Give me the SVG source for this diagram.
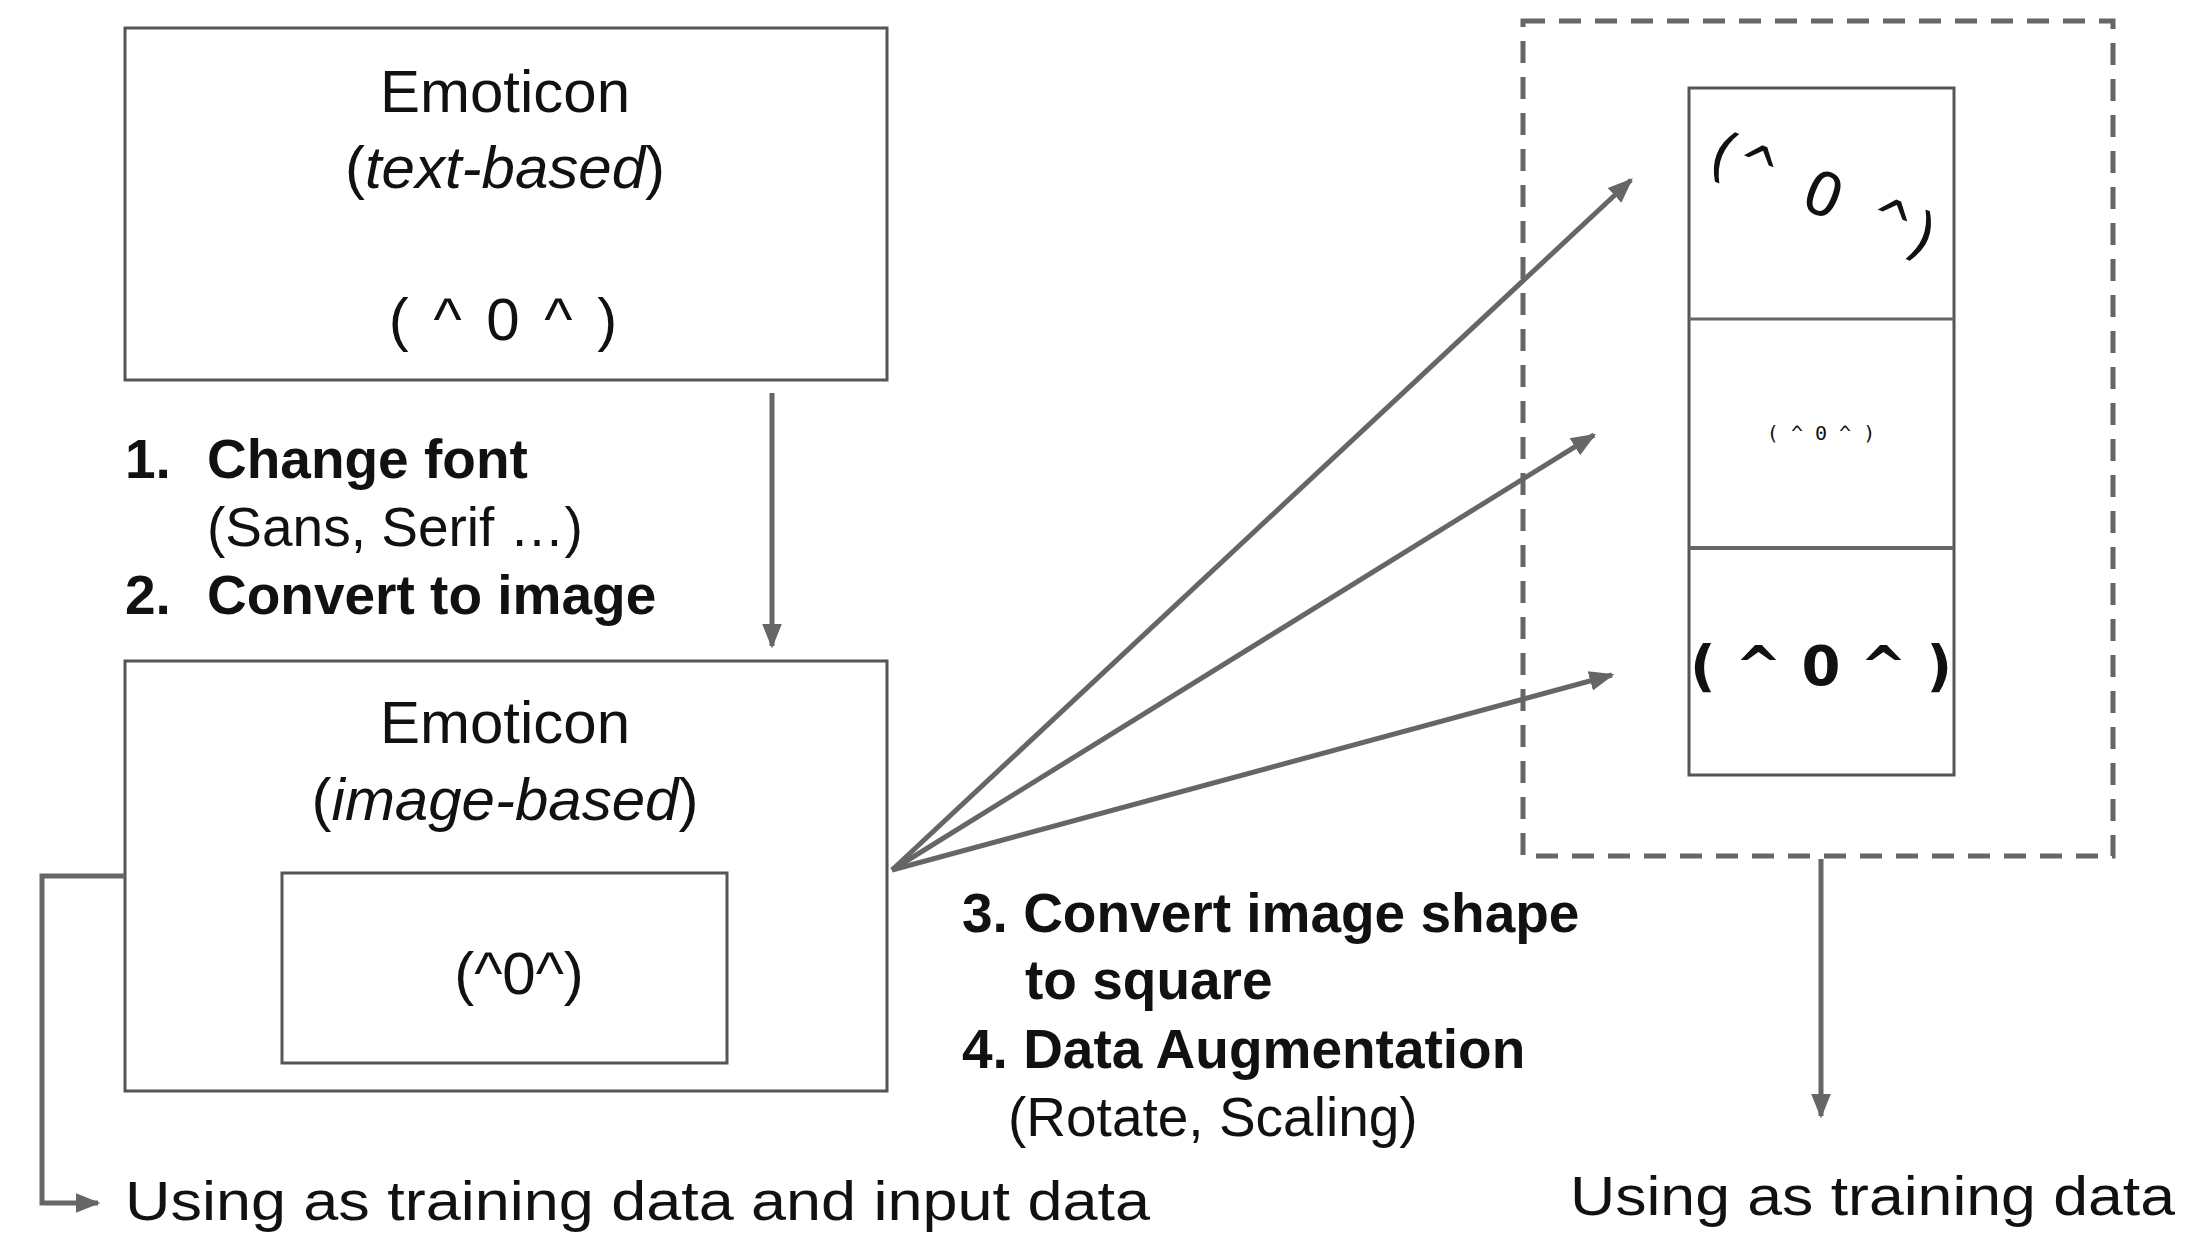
<svg xmlns="http://www.w3.org/2000/svg" width="2190" height="1259" viewBox="0 0 2190 1259" font-family="'Liberation Sans', Arimo, Arial, sans-serif">
<style>
.box{fill:#fff;stroke:#555;stroke-width:3}
.ln{stroke:#666;stroke-width:5;fill:none}
text{font-family:'Liberation Sans',Arimo,Arial,sans-serif;fill:#111}
.t{font-size:60px;text-anchor:middle}
.b{font-size:55px;font-weight:bold}
.n{font-size:55px}
</style>
<defs>
<marker id="ah" viewBox="0 0 10 10" refX="9" refY="5" markerWidth="5" markerHeight="5" orient="auto" markerUnits="strokeWidth"><path d="M0,1 L10,5 L0,9z" fill="#666"/></marker>
</defs>
<rect width="2190" height="1259" fill="#fff"/>
<g id="text-box">
<rect class="box" x="125" y="28" width="762" height="352"/>
<text class="t" x="505" y="112">Emoticon</text>
<text class="t" x="505" y="188">(<tspan font-style="italic">text-based</tspan>)</text>
<text class="t" x="505" y="340" font-size="58" letter-spacing="4">( ^ 0 ^ )</text>
</g>
<g id="image-box">
<rect class="box" x="125" y="661" width="762" height="430"/>
<text class="t" x="505" y="743">Emoticon</text>
<text class="t" x="505" y="820">(<tspan font-style="italic">image-based</tspan>)</text>
<rect class="box" x="282" y="873" width="445" height="190"/>
<text class="t" x="519" y="994">(^0^)</text>
</g>
<g id="augmented">
<rect x="1523" y="21" width="590" height="835" fill="none" stroke="#666" stroke-width="5" stroke-dasharray="22,14"/>
<rect class="box" x="1689" y="88" width="265" height="687" stroke-width="4"/>
<line x1="1689" y1="319" x2="1954" y2="319" stroke="#666" stroke-width="3"/>
<line x1="1689" y1="548" x2="1954" y2="548" stroke="#666" stroke-width="4"/>
<text x="1821" y="215" font-size="60" text-anchor="middle" transform="rotate(22 1821 200)" style="font-family:'DejaVu Sans Mono',monospace">(^ O ^)</text>
<text x="1821" y="440" font-size="20" text-anchor="middle" style="font-family:'DejaVu Sans Mono',monospace">( ^ 0 ^ )</text>
<text x="1821" y="685" font-size="56" font-weight="bold" text-anchor="middle" style="font-family:'DejaVu Sans',sans-serif">( ^ 0 ^ )</text>
</g>
<g id="labels">
<text class="b" x="125" y="478">1.<tspan x="207">Change font</tspan></text>
<text class="n" x="207" y="546">(Sans, Serif …)</text>
<text class="b" x="125" y="614">2.<tspan x="207">Convert to image</tspan></text>
<text class="b" x="962" y="932">3. Convert image shape</text>
<text class="b" x="1025" y="999">to square</text>
<text class="b" x="962" y="1068">4. Data Augmentation</text>
<text class="n" x="1008" y="1136">(Rotate, Scaling)</text>
<text class="n" x="125" y="1220" font-size="60" textLength="1025" lengthAdjust="spacingAndGlyphs">Using as training data and input data</text>
<text class="n" x="1570" y="1215" font-size="60" textLength="605" lengthAdjust="spacingAndGlyphs">Using as training data</text>
</g>
<g id="connectors">
<line class="ln" x1="772" y1="393" x2="772" y2="646" stroke-width="6" marker-end="url(#ah)"/>
<line class="ln" x1="892" y1="870" x2="1631" y2="180" marker-end="url(#ah)"/>
<line class="ln" x1="892" y1="870" x2="1594" y2="435" marker-end="url(#ah)"/>
<line class="ln" x1="892" y1="870" x2="1612" y2="675" marker-end="url(#ah)"/>
<polyline class="ln" points="125,876 42,876 42,1203 98,1203" stroke-width="4" marker-end="url(#ah)"/>
<line class="ln" x1="1821" y1="859" x2="1821" y2="1116" stroke-width="4" marker-end="url(#ah)"/>
</g>
</svg>
